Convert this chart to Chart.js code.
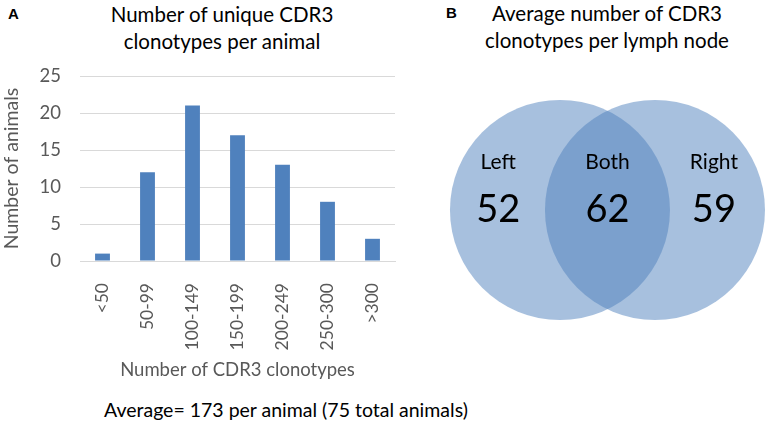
<!DOCTYPE html>
<html>
<head>
<meta charset="utf-8">
<script src="https://cdn.jsdelivr.net/npm/chart.js@4.4.1/dist/chart.umd.min.js"></script>
<style>
  body { margin: 0; background: #fff; width: 767px; height: 423px; overflow: hidden; position: relative; font-family: Lato, "Open Sans", sans-serif; }
  .abs { position: absolute; }
  .panel { font-family: "Liberation Sans", Arial, sans-serif; font-weight: bold; font-size: 15px; }
  .title { text-align: center; font-size: 20.5px; line-height: 27px; color: #000; white-space: nowrap; }
  #bars { position: absolute; left: 0; top: 0; }
  #venn { position: absolute; left: 430px; top: 50px; }
</style>
</head>
<body>
<div class="abs panel" style="left:8px; top:5px;">A</div>
<div class="abs panel" style="left:446px; top:4px;">B</div>
<div class="abs title" style="left:72px; width:300px; top:1px;">Number of unique CDR3<br>clonotypes per animal</div>
<div class="abs title" style="left:457px; width:300px; top:0px;">Average number of CDR3<br>clonotypes per lymph node</div>
<div class="abs" style="left:104px; top:398px; font-size:19.5px; color:#000; white-space:nowrap;">Average= 173 per animal (75 total animals)</div>

<canvas id="bars" width="420" height="423"></canvas>
<canvas id="venn" width="337" height="320"></canvas>

<script>
// panel A
var binLabels = ["<50", "50-99", "100-149", "150-199", "200-249", "250-300", ">300"];
var animalCounts = [1, 12, 21, 17, 13, 8, 3];
var yTicks = [0, 5, 10, 15, 20, 25];

// panel B
var vennNames = ["Left", "Both", "Right"];
var vennValues = [52, 62, 59];
var vennTextX = [-0.65, 0.5, 1.62];   // where each pair of labels sits on the x scale
var circleX = [0, 1];                // circle centres

var gray = "#595959";

var barCtx = document.getElementById("bars").getContext("2d");
var barChart = new Chart(barCtx, {
    type: "bar",
    data: {
        labels: binLabels,
        datasets: [{
            data: animalCounts,
            backgroundColor: "#4f81bd",
            barPercentage: 0.33,
            categoryPercentage: 1
        }]
    },
    options: {
        responsive: false,
        animation: false,
        layout: { padding: { left: 0, right: 25, top: 76, bottom: 42 } },
        plugins: { legend: { display: false }, tooltip: { enabled: false } },
        scales: {
            x: {
                grid: { display: false },
                border: { color: "#d9d9d9" },
                ticks: {
                    color: gray, font: { family: "Lato", size: 17.5 },
                    minRotation: 90, maxRotation: 90, autoSkip: false, padding: 14
                },
                title: {
                    display: true, text: "Number of CDR3 clonotypes", color: gray,
                    font: { family: "Lato", size: 18.5 }, padding: 0
                },
                afterFit: function(scale) { scale.height = 120; }
            },
            y: {
                min: 0, max: 25,
                afterBuildTicks: function(scale) {
                    scale.ticks = yTicks.map(function(v) { return { value: v }; });
                },
                grid: { color: "#d9d9d9", drawTicks: false },
                border: { display: false },
                ticks: { color: gray, font: { family: "Lato", size: 18.5 }, padding: 19 },
                title: {
                    display: true, text: "Number of animals", color: gray,
                    font: { family: "Lato", size: 19.5 }, padding: 0
                },
                afterFit: function(scale) { scale.width = 80; }
            }
        }
    }
});

// labels inside the venn circles
var vennText = {
    id: "vennText",
    afterDatasetsDraw: function(chart) {
        var ctx = chart.ctx;
        var xs = chart.scales.x, ys = chart.scales.y;
        ctx.save();
        ctx.fillStyle = "#000";
        ctx.textAlign = "center";
        ctx.textBaseline = "middle";
        for (var i = 0; i < vennNames.length; i++) {
            var px = xs.getPixelForValue(vennTextX[i]);
            ctx.font = "21px Lato";
            ctx.fillText(vennNames[i], px, ys.getPixelForValue(0.65));
            ctx.font = "38px Lato";
            ctx.fillText(String(vennValues[i]), px, ys.getPixelForValue(0.5));
        }
        ctx.restore();
    }
};

var vennCtx = document.getElementById("venn").getContext("2d");
var vennChart = new Chart(vennCtx, {
    type: "bubble",
    data: {
        datasets: [{
            data: circleX.map(function(x) { return { x: x, y: 0.5, r: 110 }; }),
            backgroundColor: "rgba(79,129,189,0.5)",
            borderWidth: 0,
            hoverRadius: 0,
            clip: false
        }]
    },
    options: {
        responsive: false,
        animation: false,
        layout: { padding: 0, autoPadding: false },
        plugins: { legend: { display: false }, tooltip: { enabled: false } },
        scales: {
            x: { display: false, min: -1.368, max: 2.179 },
            y: { display: false, min: 0, max: 1 }
        }
    },
    plugins: [vennText]
});
</script>
</body>
</html>
